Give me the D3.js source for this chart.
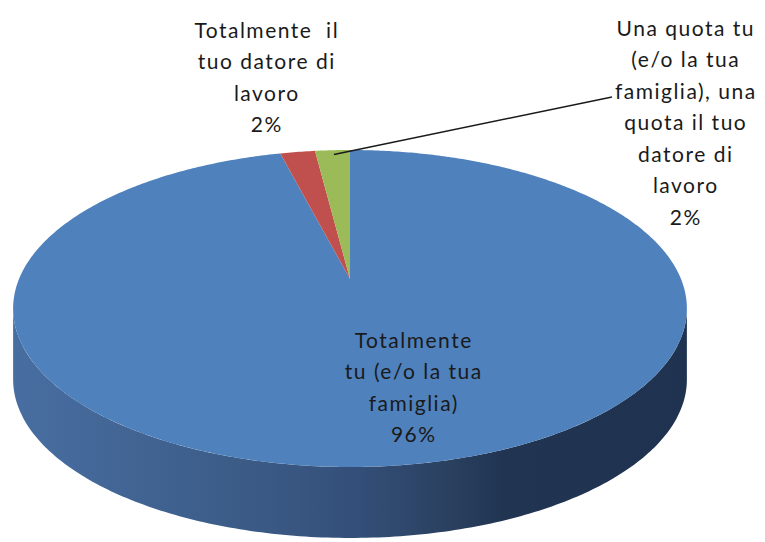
<!DOCTYPE html>
<html>
<head>
<meta charset="utf-8">
<script src="https://cdn.jsdelivr.net/npm/d3@7"></script>
<style>
  html, body { margin: 0; padding: 0; background: #fff; }
  svg { display: block; }
  text { font-family: Lato, "Liberation Sans", sans-serif; fill: #1a1a1a; }
</style>
</head>
<body>
<svg id="chart" width="765" height="542"></svg>
<script>
// ---- data ----
const categories = [
  "Totalmente tu (e/o la tua famiglia)",
  "Totalmente il tuo datore di lavoro",
  "Una quota tu (e/o la tua famiglia), una quota il tuo datore di lavoro"
];
const values = [96, 2, 2];
const percentLabels = ["96%", "2%", "2%"];
const labelLines = [
  ["Totalmente", "tu (e/o la tua", "famiglia)"],
  ["Totalmente  il", "tuo datore di", "lavoro"],
  ["Una quota tu", "(e/o la tua", "famiglia), una", "quota il tuo", "datore di", "lavoro"]
];
const colors = ["#4f81bd", "#c0504d", "#9bbb59"];

// ---- layout ----
const svg = d3.select("#chart");
const cx = 350, cy = 279;       // projected pie centre
const A = 331, B = 153, k = 0.186; // perspective ellipse params
const depth = 71;

function proj(a, r = 1) {
  const u = r * Math.sin(a), v = -r * Math.cos(a);
  const w = 1 - k * v;
  return [cx + A * u / w, cy + B * v / w];
}

const pie = d3.pie().sort(null).value(d => d)(values);

// side gradient
const defs = svg.append("defs");
const grad = defs.append("linearGradient").attr("id", "sideGrad")
  .attr("gradientUnits", "userSpaceOnUse")
  .attr("x1", cx - 337).attr("x2", cx + 337).attr("y1", 0).attr("y2", 0);
[[0, "#486ea1"], [0.35, "#3b5b86"], [0.5, "#34507a"], [0.65, "#2a405f"], [0.73, "#213452"], [1, "#1f3250"]]
  .forEach(([o, c]) => grad.append("stop").attr("offset", o).attr("stop-color", c));

// side wall (near half, visible part of the first slice)
const aR = Math.acos(-k), aL = 2 * Math.PI - Math.acos(-k);
const sidePts = [];
const N = 200;
for (let i = 0; i <= N; i++) sidePts.push(proj(aR + (aL - aR) * i / N));
const bottomPts = sidePts.slice().reverse().map(([x, y]) => [x, y + depth]);
svg.append("path")
  .attr("d", d3.line()(sidePts.concat(bottomPts)) + "Z")
  .attr("fill", "url(#sideGrad)");

// top faces
pie.forEach((p, i) => {
  const pts = [[cx, cy]];
  const steps = Math.max(4, Math.ceil((p.endAngle - p.startAngle) / 0.01));
  for (let j = 0; j <= steps; j++) pts.push(proj(p.startAngle + (p.endAngle - p.startAngle) * j / steps));
  svg.append("path").attr("d", d3.line()(pts) + "Z").attr("fill", colors[i]);
});

// leader line for the green slice
const g = pie[2];
const lp = proj((g.startAngle + g.endAngle) / 2, 0.97);
svg.append("line").attr("x1", lp[0] + 1).attr("y1", lp[1] + 1).attr("x2", 612).attr("y2", 97)
  .attr("stroke", "#1a1a1a").attr("stroke-width", 1.5);

// labels
const labelPos = [[413, 340], [266, 30], [685, 28]];
const lineH = 31.5;
const fs = 21;
const ls = 1.5;
labelLines.forEach((lines, i) => {
  const all = lines.concat([percentLabels[i]]);
  const t = svg.append("text").attr("text-anchor", "middle")
    .style("font-size", fs + "px").style("letter-spacing", ls + "px");
  all.forEach((s, j) => {
    t.append("tspan").attr("x", labelPos[i][0] + ls / 2).attr("y", labelPos[i][1] + j * lineH + fs * 0.36)
      .attr("xml:space", "preserve").text(s);
  });
});
</script>
</body>
</html>
